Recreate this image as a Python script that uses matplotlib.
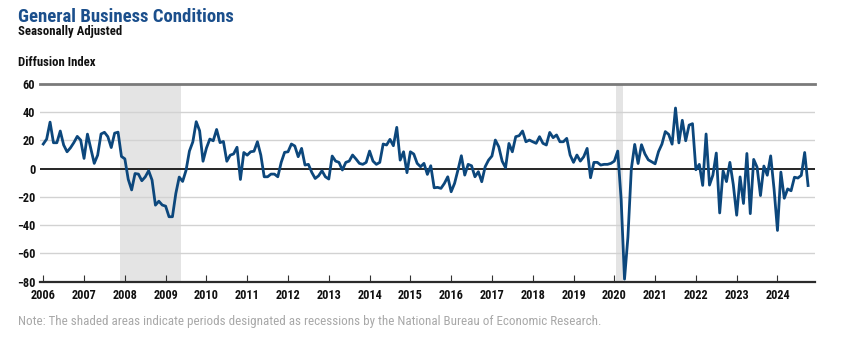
import numpy as np
import matplotlib
matplotlib.use("Agg")
import matplotlib.pyplot as plt
from matplotlib import font_manager as fm

# ---- data: Empire State Manufacturing Survey, general business conditions (SA) ----
start_year = 2006
year_ticks = list(range(2006, 2025))
year_labels = [str(y) for y in year_ticks]

v2006 = [17.5, 21.0, 33.0, 18.4, 18.4, 26.7, 16.8, 12.0, 14.8, 18.5, 22.9, 20.3]
v2007 = [7.3, 24.5, 14.0, 3.8, 9.6, 24.6, 25.8, 22.7, 15.0, 25.2, 25.9, 8.7]
v2008 = [7.0, -7.5, -15.0, -3.4, -3.8, -8.5, -5.8, -1.4, -8.0, -25.8, -23.0, -25.7]
v2009 = [-26.5, -34.0, -34.0, -17.5, -5.9, -9.0, -1.2, 12.5, 19.0, 33.3, 26.9, 5.3]
v2010 = [14.6, 21.0, 19.8, 27.8, 18.5, 19.3, 5.3, 9.6, 10.5, 15.2, -7.6, 11.5]
v2011 = [9.6, 12.0, 12.4, 19.1, 9.7, -5.7, -5.7, -3.8, -3.8, -5.7, 4.5, 11.6]
v2012 = [12.0, 17.5, 16.1, 8.5, 14.4, 2.6, 3.1, -2.6, -6.9, -5.0, -1.4, -5.7]
v2013 = [-7.3, 9.0, 5.4, 4.5, -0.9, 4.5, 5.4, 9.7, 6.9, 3.8, 3.1, 4.5]
v2014 = [12.5, 5.4, 3.1, 4.5, 17.5, 16.8, 20.8, 16.3, 29.3, 6.1, 12.0, -2.8]
v2015 = [12.0, 10.4, 3.8, 1.4, 3.8, -4.0, 2.1, -13.5, -13.2, -13.9, -10.4, -5.7]
v2016 = [-16.3, -10.4, -0.9, 9.2, -4.5, 3.1, 2.1, -5.7, -2.1, -9.2, 1.4, 6.1]
v2017 = [9.0, 20.3, 15.6, 5.4, 0.7, 17.9, 12.0, 22.7, 23.4, 26.7, 19.1, 20.3]
v2018 = [19.1, 18.0, 22.7, 18.0, 16.8, 25.7, 22.0, 23.9, 19.1, 19.1, 21.5, 9.7]
v2019 = [4.5, 9.7, 5.4, 8.5, 14.4, -6.4, 4.5, 4.5, 2.6, 3.1, 3.1, 3.8]
v2020 = [5.4, 12.5, -21.5, -78.2, -48.5, -0.2, 17.2, 3.7, 17.0, 10.5, 6.3, 4.9]
v2021 = [3.5, 12.1, 17.4, 26.3, 24.3, 17.4, 43.0, 18.3, 34.3, 19.8, 30.9, 31.9]
v2022 = [-0.7, 3.1, -11.8, 24.6, -11.6, -4.5, 11.1, -31.3, -1.5, -9.1, 4.5, -11.2]
v2023 = [-32.9, -5.8, -24.6, 10.8, -31.8, 6.6, 1.1, -19.0, 1.9, -4.6, 9.1, -14.5]
v2024 = [-43.7, -2.4, -20.9, -14.3, -15.6, -6.0, -6.6, -4.7, 11.5, -11.9]

# NBER recession peak / trough months (year, month)
recession_start = [(2007, 12), (2020, 2)]
recession_end = [(2009, 6), (2020, 4)]

# ---- fonts ----
available = {f.name for f in fm.fontManager.ttflist}
FONT, STRETCH = "DejaVu Sans", "condensed"
for cand in ["Liberation Sans Narrow", "Roboto Condensed", "Open Sans Condensed"]:
    if cand in available:
        FONT, STRETCH = cand, "normal"
        break
plt.rcParams["font.family"] = [FONT, "DejaVu Sans"]
plt.rcParams["font.stretch"] = STRETCH

values = np.concatenate([v2006, v2007, v2008, v2009, v2010, v2011, v2012, v2013,
                         v2014, v2015, v2016, v2017, v2018, v2019, v2020, v2021,
                         v2022, v2023, v2024])
t = start_year + np.arange(len(values)) / 12.0

W, H = 862, 342
fig = plt.figure(figsize=(W / 100, H / 100), dpi=100)
left, right, top, bottom = 40, 815, 84, 281.7
ax = fig.add_axes([left / W, 1 - bottom / H, (right - left) / W, (bottom - top) / H])

line_color = "#0c477c"

for (ys, ms), (ye, me) in zip(recession_start, recession_end):
    ax.axvspan(ys + (ms - 1.5) / 12, ye + (me - 1.5) / 12, color="#e4e4e4", lw=0, zorder=0)

for g in [-60, -40, -20, 20, 40]:
    ax.axhline(g, color="#d2d2d2", lw=1.0, zorder=1)
ax.axhline(60, color="#7a7a7a", lw=2.0, zorder=1, clip_on=False)
ax.axhline(0, color="black", lw=1.2, zorder=2)

ax.plot(t, values, color=line_color, lw=2.0, zorder=3, solid_joinstyle="round")

ax.set_xlim(2005.92, 2024.92)
ax.set_ylim(-80, 60)
ax.set_yticks(range(-80, 61, 20))
ax.set_xticks(year_ticks)
ax.set_xticklabels(year_labels)

for s in ["top", "left", "right"]:
    ax.spines[s].set_visible(False)
ax.spines["bottom"].set_color("#2b2b2b")
ax.spines["bottom"].set_linewidth(1.6)
ax.spines["bottom"].set_zorder(4)

ax.tick_params(axis="x", direction="in", length=5, width=0.8, color="#333333",
               pad=5, labelsize=8.8, labelcolor="#111111")
ax.tick_params(axis="y", length=0, pad=3.5, labelsize=8.8, labelcolor="#111111")
for lab in ax.get_xticklabels() + ax.get_yticklabels():
    lab.set_fontweight("bold")

fig.text(18 / W, 1 - 22.5 / H, "General Business Conditions", fontsize=13.5,
         fontweight="bold", color="#1b4f8c", va="baseline", ha="left")
fig.text(18 / W, 1 - 35.5 / H, "Seasonally Adjusted", fontsize=9.2,
         fontweight="bold", color="#111111", va="baseline", ha="left")
fig.text(18 / W, 1 - 66.5 / H, "Diffusion Index", fontsize=9.2,
         fontweight="bold", color="#111111", va="baseline", ha="left")
fig.text(18 / W, 1 - 325.5 / H,
         "Note: The shaded areas indicate periods designated as recessions by the "
         "National Bureau of Economic Research.",
         fontsize=9.4, color="#a8a8a8", va="baseline", ha="left")

fig.savefig("out.png", dpi=100, facecolor="white")
